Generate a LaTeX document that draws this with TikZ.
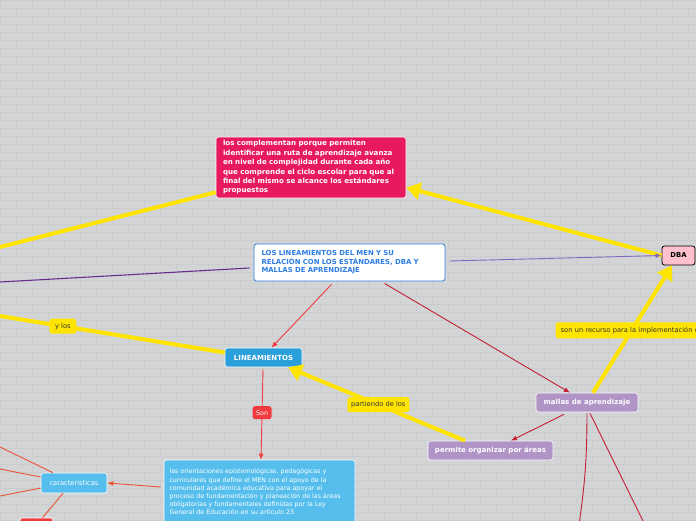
\documentclass[tikz,border=0pt]{standalone}
\usepackage{fontspec}
\setmainfont{DejaVu Sans}
\usetikzlibrary{arrows.meta}
\definecolor{fondo}{RGB}{211,212,214}
\definecolor{ladrillo}{RGB}{203,204,206}
\definecolor{rosa}{RGB}{231,26,95}
\definecolor{amarillo}{RGB}{255,228,0}
\definecolor{azultit}{RGB}{45,125,230}
\definecolor{azulosc}{RGB}{41,160,218}
\definecolor{celeste}{RGB}{86,190,237}
\definecolor{rojo}{RGB}{240,58,62}
\definecolor{morado}{RGB}{176,148,198}
\definecolor{granate}{RGB}{196,30,52}
\definecolor{naranja}{RGB}{236,82,52}
\definecolor{violeta}{RGB}{105,45,145}
\definecolor{lila}{RGB}{128,104,192}
\definecolor{rosadba}{RGB}{255,192,205}

\begin{document}
\begin{tikzpicture}[x=1pt, y=-1pt,
      caja/.style={rectangle, rounded corners=2.5pt, inner sep=0pt, align=center},
      blanco/.style={caja, draw=white, line width=0.6pt, text=white,
                     font=\fontsize{7}{8}\selectfont\bfseries},
      etiq/.style={caja, fill=amarillo, text=black!80,
                   font=\fontsize{6.7}{7.5}\selectfont},
      yel/.style={amarillo, line width=4pt},
      bigtip/.style={-{Triangle[length=14pt,width=17pt]}},
      fino/.style={line width=0.9pt, -{Latex[length=6pt,width=5pt]}}]
      \useasboundingbox (0,0) rectangle (696,520);
      % fondo de ladrillos
      \fill[fondo] (0,0) rectangle (696,520);
      \foreach \r in {0,...,65}{
        \draw[ladrillo, line width=0.4pt] (0,8*\r) -- (696,8*\r);
        \pgfmathsetmacro{\off}{16*mod(\r,2)}
        \foreach \k in {0,...,21}{
          \draw[ladrillo, line width=0.4pt] (32*\k+\off,8*\r) -- (32*\k+\off,8*\r+8);
        }
      }

      % nodos
      \node[blanco, fill=rosa, minimum width=190pt, minimum height=61pt,
            text width=176pt, align=left, font=\fontsize{7.1}{9.4}\selectfont\bfseries]
            (compl) at (311,167.5)
            {los complementan porque permiten\\
             identificar una ruta de aprendizaje avanza\\
             en nivel de complejidad durante cada año\\
             que comprende el ciclo escolar para que al\\
             final del mismo se alcance los estándares\\
             propuestos};
      \node[caja, fill=white, draw=azultit, line width=0.8pt, text=azultit,
            minimum width=191pt, minimum height=37pt, text width=176pt, align=left,
            font=\fontsize{6.9}{8.6}\selectfont\bfseries]
            (titulo) at (349.5,262.5)
            {LOS LINEAMIENTOS DEL MEN Y SU\\
             RELACIÓN CON LOS ESTÁNDARES, DBA Y\\
             MALLAS DE APRENDIZAJE};
      \node[caja, fill=rosadba, draw=black, line width=0.8pt,
            minimum width=33pt, minimum height=19pt,
            font=\fontsize{6.8}{8}\selectfont\bfseries] (dba) at (678.5,255.5) {DBA};
      \node[blanco, fill=azulosc, minimum width=77pt, minimum height=19pt]
            (lin) at (263.5,357.5) {LINEAMIENTOS};
      \node[blanco, fill=celeste, minimum width=191pt, minimum height=64pt,
            text width=180pt, align=left, font=\fontsize{6.3}{8.2}\selectfont]
            (orient) at (259.5,492)
            {las orientaciones epistemológicas, pedagógicas y\\
             curriculares que define el MEN con el apoyo de la\\
             comunidad académica educativa para apoyar el\\
             proceso de fundamentación y planeación de las áreas\\
             obligatorias y fundamentales definidas por la Ley\\
             General de Educación en su artículo 23};
      \node[blanco, fill=celeste, minimum width=66pt, minimum height=20pt,
            font=\fontsize{6.7}{8}\selectfont] (caract) at (74,483) {caracteristicas};
      \node[caja, fill=rojo, draw=white, line width=0.6pt,
            minimum width=33pt, minimum height=12pt] (roja) at (36.5,524) {};
      \node[blanco, fill=morado, minimum width=102pt, minimum height=19pt]
            (mallas) at (587,402.5) {mallas de aprendizaje};
      \node[blanco, fill=morado, minimum width=125pt, minimum height=19pt]
            (permite) at (490.5,450.5) {permite organizar por áreas};

      % extremos fuera del dibujo
      \coordinate (izqA) at (0,247);
      \coordinate (izqB) at (0,282);
      \coordinate (izqC) at (0,316);
      \coordinate (izqD) at (0,447);
      \coordinate (izqE) at (0,469);
      \coordinate (izqF) at (0,496);
      \coordinate (abajoA) at (579,525);
      \coordinate (abajoB) at (645,525);

      % conectores amarillos
      \draw[yel] (izqA) -- ([yshift=6pt]compl.south west);
      \draw[yel, bigtip] (dba.west) -- ([yshift=-20pt]compl.east);
      \draw[yel] (izqC) -- node[etiq, pos=0.28, minimum width=27pt, minimum height=15pt]
            (ylos) {y los} ([yshift=5pt]lin.west);
      \draw[yel, bigtip] ([xshift=-25.5pt]permite.north) --
            node[etiq, pos=0.49, minimum width=62pt, minimum height=15pt]
            (partiendo) {partiendo de los} ([xshift=24.5pt]lin.south);
      \draw[yel, bigtip] ([xshift=6pt]mallas.north) --
            node[etiq, pos=0.49, anchor=west, xshift=-78pt, minimum width=200pt,
            minimum height=16pt, text width=190pt, align=left]
            (recurso) {son un recurso para la implementación de} ([xshift=-6.5pt]dba.south);

      % conectores morados
      \draw[violeta, line width=1.1pt] ([xshift=-4pt,yshift=-5.5pt]titulo.west) -- (izqB);
      \draw[lila, fino] ([xshift=4pt,yshift=1.5pt]titulo.east) -- (dba.west);

      % conectores rojos
      \draw[rojo, fino] ([xshift=-18pt,yshift=-3pt]titulo.south) -- ([xshift=8pt]lin.north);
      \draw[granate, fino] ([xshift=35pt,yshift=-2pt]titulo.south) -- ([xshift=-17pt]mallas.north);
      \draw[rojo, fino] ([xshift=-0.5pt,yshift=-2pt]lin.south) --
            node[caja, fill=rojo, text=white, pos=0.48, minimum width=19pt, minimum height=13pt,
            font=\fontsize{6.4}{7}\selectfont] (son) {Son} ([xshift=1.5pt]orient.north);
      \draw[granate, fino] ([xshift=-23pt,yshift=-2pt]mallas.south) -- ([xshift=20.5pt]permite.north);
      \draw[granate, line width=0.9pt] ([yshift=-1pt]mallas.south) to[bend left=4] (abajoA);
      \draw[granate, line width=0.9pt] ([xshift=3pt,yshift=-1pt]mallas.south) -- (abajoB);

      % conectores naranjas
      \draw[naranja, fino] ([xshift=-3pt,yshift=5pt]orient.west) -- (caract.east);
      \draw[naranja, line width=0.9pt] ([xshift=-21pt]caract.north) -- (izqD);
      \draw[naranja, line width=0.9pt] ([yshift=6pt]caract.west) -- (izqE);
      \draw[naranja, line width=0.9pt] ([yshift=-5pt]caract.west) -- (izqF);
      \draw[naranja, line width=0.9pt] ([xshift=-11pt]caract.south) -- ([xshift=6pt]roja.north);
    \end{tikzpicture}
\end{document}
